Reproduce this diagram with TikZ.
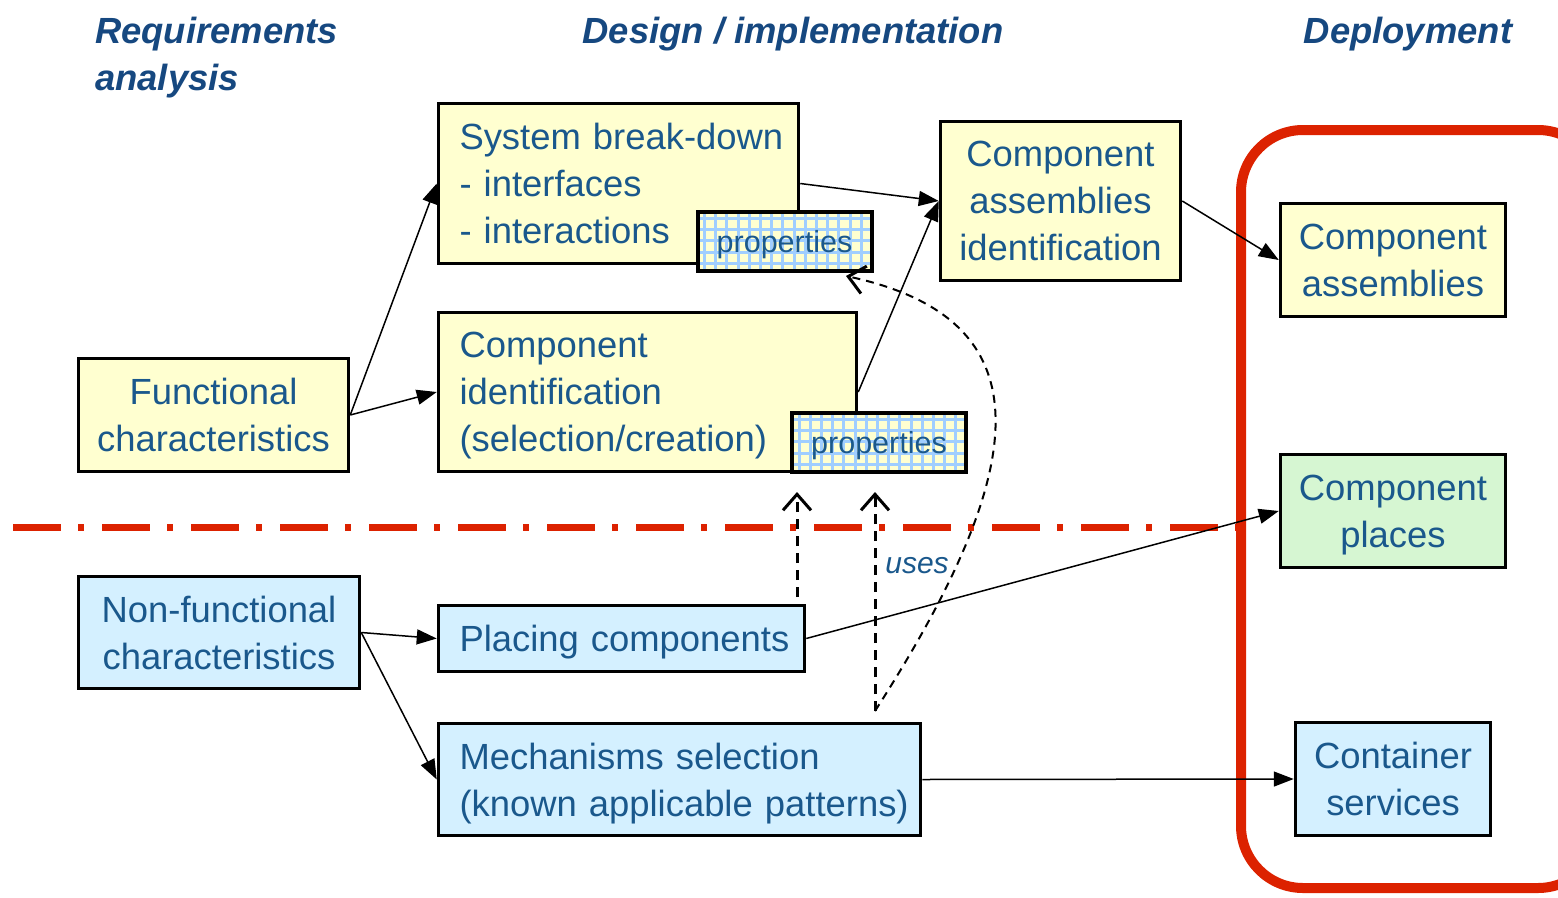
\documentclass[tikz,border=0pt]{standalone}
\usepackage{fontspec}
\setmainfont{Liberation Sans}
\usetikzlibrary{arrows.meta,calc}

\definecolor{txtblue}{RGB}{26,88,140}
\definecolor{headblue}{RGB}{22,72,128}
\definecolor{yelfill}{RGB}{255,255,208}
\definecolor{blufill}{RGB}{212,240,255}
\definecolor{grnfill}{RGB}{214,246,210}
\definecolor{gridblue}{RGB}{160,206,255}
\definecolor{deployred}{RGB}{220,34,0}

\newcommand{\bfnt}{\fontsize{36.4}{47}\selectfont\exhyphenpenalty=10000\hyphenpenalty=10000\relax}
\newcommand{\hfnt}{\fontsize{36.4}{47}\selectfont\bfseries\itshape}

\tikzset{
  box/.style={draw=black, line width=3.5pt, inner sep=0pt, font=\bfnt, text=txtblue},
  ybox/.style={box, fill=yelfill},
  bbox/.style={box, fill=blufill},
  gbox/.style={box, fill=grnfill},
  ctext/.style={align=center, text depth=0pt},
  % left-aligned text block: width, then number of lines below the first
  ltext/.style 2 args={align=left, inner xsep=21pt, text width=#1, text depth=#2*47pt},
  propbox/.style={draw=black, line width=4pt, fill=yelfill, inner sep=0pt,
    font=\fontsize{30.5}{36}\selectfont, text=txtblue, text depth=0pt,
    minimum width=174pt, minimum height=59pt,
    path picture={
      \foreach \i in {0,...,16}
        \draw[gridblue, line width=3pt]
          ($(path picture bounding box.north west)+(7+\i*11.2,0)$) -- ++(0,80);
      \foreach \j in {0,...,5}
        \draw[gridblue, line width=3pt]
          ($(path picture bounding box.north west)+(0,7+\j*11.2)$) -- ++(200,0);
    }},
  flow/.style={line width=1.5pt, -{Triangle[length=20pt,width=15pt]}},
  uselink/.style={line width=3pt, dash pattern=on 10pt off 7pt,
    -{Straight Barb[length=16pt,width=28pt,line width=3pt]}},
  head/.style={font=\hfnt, text=headblue, inner sep=0pt},
}

\begin{document}
\begin{tikzpicture}[x=1pt,y=-1pt]
  \useasboundingbox (0,0) rectangle (1558,897);

  % column headings
  \node[head, anchor=west, align=left] (hreq) at (95,58) {Requirements\\analysis};
  \node[head] (hdes) at (793,34) {Design / implementation};
  \node[head] (hdep) at (1408,34) {Deployment};

  % deployment frame
  \draw[deployred, line width=10pt, rounded corners=62pt] (1241,130) rectangle (1600,888);

  % boundary between functional and non-functional parts
  \coordinate (bl) at (13,527);
  \coordinate (br) at (1238,527);
  \draw[deployred, line width=7pt, dash pattern=on 48pt off 17pt on 6pt off 18pt] (bl) -- (br);

  % functional side
  \node[ybox, ctext, minimum width=270pt, minimum height=113pt] (func) at (213.5,415)
    {Functional\\characteristics};
  \node[ybox, ltext={318pt}{2}, minimum height=160pt] (sys) at (618.5,183.5)
    {\mbox{System break-down}\\\mbox{- interfaces}\\\mbox{- interactions}};
  \node[ybox, ltext={376pt}{2}, minimum height=159pt] (compid) at (647.5,392)
    {Component\\identification\\(selection/creation)};
  \node[ybox, ctext, minimum width=240pt, minimum height=159pt] (cai) at (1060.5,201)
    {Component\\assemblies\\identification};
  \node[propbox] (props1) at (784.5,241) {properties};
  \node[propbox] (props2) at (879,442) {properties};

  % non-functional side
  \node[bbox, ctext, minimum width=281pt, minimum height=112pt] (nonf) at (219,632.5)
    {Non-functional\\characteristics};
  \node[bbox, ltext={324pt}{0}, minimum height=66pt] (place) at (621.5,638.5)
    {\mbox{Placing components}};
  \node[bbox, ltext={440pt}{1}, minimum height=112pt] (mech) at (679.5,779.5)
    {\mbox{Mechanisms selection}\\\mbox{(known applicable patterns)}};

  % deployment artefacts
  \node[ybox, ctext, minimum width=225pt, minimum height=113pt] (ca) at (1393,260)
    {Component\\assemblies};
  \node[gbox, ctext, minimum width=225pt, minimum height=113pt] (cplaces) at (1393,511)
    {Component\\places};
  \node[bbox, ctext, minimum width=195pt, minimum height=113pt] (cont) at (1393,779)
    {Container\\services};

  % flow between activities
  \draw[flow] (func.east) -- (sys.west);
  \draw[flow] (func.east) -- (compid.west);
  \draw[flow] (sys.east) -- (cai.west);
  \draw[flow] (compid.east) -- (cai.west);
  \draw[flow] (cai.east) -- (ca.west);
  \draw[flow] (nonf.east) -- (place.west);
  \draw[flow] (nonf.east) -- (mech.west);
  \draw[flow] (place.east) -- (cplaces.west);
  \draw[flow] (mech.east) -- (cont.west);

  % "uses" relations towards the properties
  \coordinate (pa) at (797,597);
  \coordinate (pt) at (797,492);
  \coordinate (ma) at (875,711);
  \coordinate (mt) at (875,492);
  \coordinate (ct) at (846,276);
  \draw[uselink] (pa) -- (pt);
  \draw[uselink] (ma) -- (mt);
  \draw[uselink, line width=2pt, dash pattern=on 8pt off 6pt] (ma)
    .. controls (1030,470) and (1050,320) .. (ct);
  \node[font=\fontsize{30}{36}\selectfont\itshape, text=txtblue, inner sep=0pt] (uses) at (917,566) {uses};
\end{tikzpicture}
\end{document}
